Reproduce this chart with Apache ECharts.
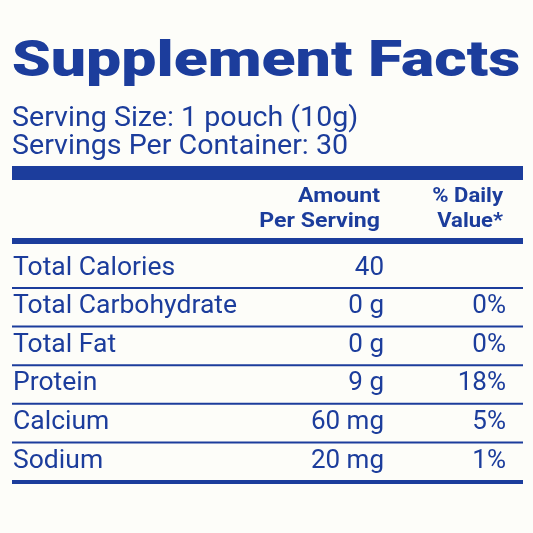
<!DOCTYPE html>
<html><head><meta charset="utf-8">
<script src="https://cdn.jsdelivr.net/npm/echarts@6/dist/echarts.min.js"></script>
<style>html,body{margin:0;padding:0;background:#fdfdf9}#c{width:533px;height:533px}</style>
</head><body><div id="c"></div>
<script>
const title = "Supplement Facts";
const servingLines = ["Serving Size: 1 pouch (10g)", "Servings Per Container: 30"];
const headerAmount = ["Amount", "Per Serving"];
const headerDV = ["% Daily", "Value*"];
const nutrients = ["Total Calories", "Total Carbohydrate", "Total Fat", "Protein", "Calcium", "Sodium"];
const amounts = ["40", "0 g", "0 g", "9 g", "60 mg", "20 mg"];
const dailyValues = ["", "0%", "0%", "18%", "5%", "1%"];

const blue = "#1c3d9c";
const font = "Roboto, 'Liberation Sans', sans-serif";
const g = [];
function t(x, y, s, size, weight, align, sx) {
  g.push({type:'text', x, y, scaleX:sx||1, style:{text:s, fill:blue, font:`${weight} ${size}px ${font}`, textAlign:align||'left', textVerticalAlign:'middle'}});
}
function r(x, y, w, h) { g.push({type:'rect', shape:{x, y, width:w, height:h}, style:{fill:blue}}); }

t(266, 63, title, 50, 900, 'center', 1.25);
servingLines.forEach((s, i) => t(12, 119 + i * 28, s, 27, 400, 'left', 1.06));
r(12, 166, 511, 14);
headerAmount.forEach((s, i) => t(380, 197 + i * 25, s, 21, 700, 'right', 1.1));
headerDV.forEach((s, i) => t(503, 197 + i * 25, s, 21, 700, 'right', 1.05));
r(12, 238, 511, 6);
const rowY0 = 268, rowH = 38.6;
nutrients.forEach((n, i) => {
  const y = rowY0 + i * rowH;
  t(13, y, n, 26, 400, 'left', 1.02);
  t(384, y, amounts[i], 26, 400, 'right');
  t(506, y, dailyValues[i], 26, 400, 'right');
  if (i < nutrients.length - 1) r(12, y + 19, 511, 2);
});
r(12, rowY0 + 5 * rowH + 19, 511, 4);

const chart = echarts.init(document.getElementById('c'));
chart.setOption({backgroundColor:'#fdfdf9', graphic:g});
</script></body></html>
